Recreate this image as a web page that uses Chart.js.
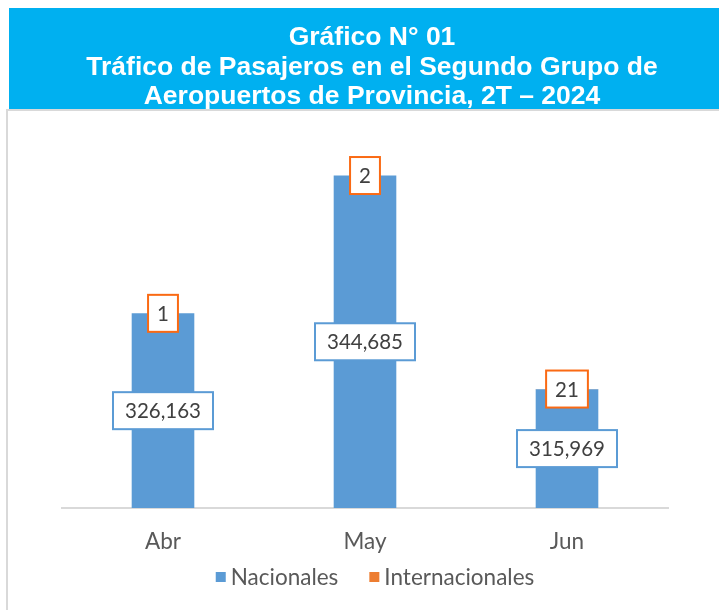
<!DOCTYPE html>
<html><head><meta charset="utf-8">
<script src="https://cdn.jsdelivr.net/npm/chart.js@4.4.1/dist/chart.umd.min.js"></script>
<style>
html,body{margin:0;padding:0;background:#fff;}
#wrap{position:relative;width:719px;height:610px;overflow:hidden;}
#frame{position:absolute;left:6px;top:109px;width:720px;height:520px;border-left:2px solid #D9D9D9;border-top:2px solid #D9D9D9;}
#title{position:absolute;left:9px;top:8px;width:710px;height:101px;background:#00B0F0;color:#fff;font:bold 26.5px "Liberation Sans",Arial,sans-serif;line-height:29.5px;text-align:center;box-sizing:border-box;padding-top:14px;padding-left:16px;white-space:nowrap;}
canvas{position:absolute;left:0;top:0;}
</style></head>
<body><div id="wrap"><div id="frame"></div><canvas id="c" width="719" height="610"></canvas><div id="title"></div></div>
<script>
const titleLines = ['Gráfico N° 01', 'Tráfico de Pasajeros en el Segundo Grupo de', 'Aeropuertos de Provincia, 2T – 2024'];
const categories = ['Abr', 'May', 'Jun'];
const nacionales = [326163, 344685, 315969];
const internacionales = [1, 2, 21];
const seriesNames = ['Nacionales', 'Internacionales'];
const seriesColors = ['#5B9BD5', '#ED7D31'];

document.getElementById('title').innerHTML = titleLines.map(t => t.replace(/&/g,'&amp;').replace(/</g,'&lt;')).join('<br>');

const labelFont = '20.5px Lato';
const boxLabels = {
  id: 'boxLabels',
  afterDatasetsDraw(chart) {
    const ctx = chart.ctx, area = chart.chartArea;
    ctx.save();
    chart.data.datasets.forEach((ds, di) => {
      const meta = chart.getDatasetMeta(di);
      meta.data.forEach((el, i) => {
        const txt = ds.data[i].toLocaleString('en-US');
        const cy = di === 0 ? (el.y + Math.min(el.base, area.bottom)) / 2 : el.y;
        ctx.font = labelFont;
        const w = ctx.measureText(txt).width;
        const padX = di === 0 ? 12 : 9;
        const h = 37, bw = w + 2 * padX;
        ctx.fillStyle = '#fff';
        ctx.fillRect(el.x - bw / 2, cy - h / 2, bw, h);
        ctx.strokeStyle = ds.labelBorder;
        ctx.lineWidth = 2;
        ctx.strokeRect(el.x - bw / 2, cy - h / 2, bw, h);
        ctx.fillStyle = '#404040';
        ctx.textAlign = 'center';
        ctx.textBaseline = 'middle';
        ctx.fillText(txt, el.x, cy + 1);
      });
    });
    ctx.restore();
  }
};

// legend drawn below the axis, using the dataset labels and colours
const bottomLegend = {
  id: 'bottomLegend',
  afterDraw(chart) {
    const ctx = chart.ctx;
    ctx.save();
    ctx.font = '22.5px Lato';
    const sq = 10, gap = 5, itemGap = 31, cy = 577, cx = 375;
    const items = chart.data.datasets.map(ds => ({ text: ds.label, color: ds.backgroundColor, w: ctx.measureText(ds.label).width }));
    const total = items.reduce((s, it) => s + sq + gap + it.w, 0) + itemGap * (items.length - 1);
    let x = cx - total / 2;
    ctx.textBaseline = 'middle';
    ctx.textAlign = 'left';
    items.forEach(it => {
      ctx.fillStyle = it.color;
      ctx.fillRect(x, cy - sq / 2, sq, sq);
      x += sq + gap;
      ctx.fillStyle = '#595959';
      ctx.fillText(it.text, x, cy + 1);
      x += it.w + itemGap;
    });
    ctx.restore();
  }
};

new Chart(document.getElementById('c'), {
  type: 'bar',
  data: {
    labels: categories,
    datasets: [
      { label: seriesNames[0], data: nacionales, backgroundColor: seriesColors[0], labelBorder: '#5B9BD5',
        categoryPercentage: 1, barPercentage: 0.31 },
      { label: seriesNames[1], data: internacionales, backgroundColor: seriesColors[1], labelBorder: '#FA6A14',
        categoryPercentage: 1, barPercentage: 0.31 }
    ]
  },
  options: {
    responsive: false,
    animation: false,
    layout: { padding: { left: 62, right: 51, top: 136, bottom: 35 } },
    plugins: {
      legend: { display: false },
      tooltip: { enabled: false }
    },
    scales: {
      x: {
        stacked: true,
        grid: { display: false, drawTicks: false },
        border: { display: true, color: '#D9D9D9', width: 2 },
        ticks: { color: '#595959', font: { family: 'Lato', size: 22.5 }, padding: 20 }
      },
      y: { stacked: true, display: false, min: 300000, max: 350000 }
    }
  },
  plugins: [boxLabels, bottomLegend]
});
</script>
</body></html>
